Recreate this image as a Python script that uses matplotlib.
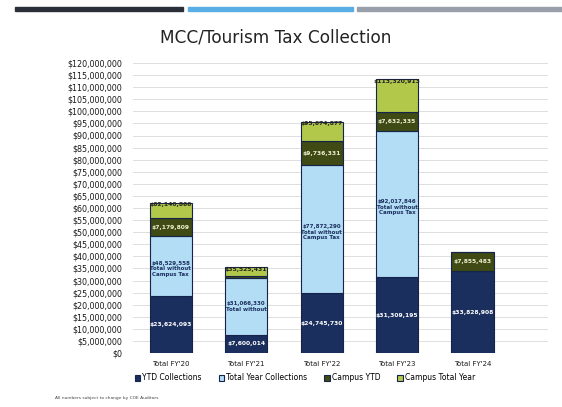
import matplotlib.pyplot as plt
from matplotlib.patches import Rectangle
from matplotlib.ticker import FuncFormatter, MultipleLocator

# values in dollars
years = ["Total FY'20", "Total FY'21", "Total FY'22", "Total FY'23", "Total FY'24"]
ytd = [23624093, 7600014, 24745730, 31309195, 33828908]
total_year = [24905465, 23466316, 53126560, 60708651, 0]
campus_ytd = [7179809, 1000000, 9736331, 7632335, 7855483]
campus_total = [6431499, 3459101, 8066256, 13670732, 0]

ytd_labels = ["$23,624,093", "$7,600,014", "$24,745,730", "$31,309,195", "$33,828,908"]
nocampus_labels = ["$48,529,558\nTotal without\nCampus Tax", "$31,066,330\nTotal without",
                   "$77,872,290\nTotal without\nCampus Tax", "$92,017,846\nTotal without\nCampus Tax", ""]
campus_labels = ["$7,179,809", "", "$9,736,331", "$7,632,335", "$7,855,483"]
top_labels = ["$62,140,866", "$35,525,431", "$95,674,877", "$113,320,913", ""]

navy = "#1b2f5e"
light = "#b3dcf5"
olive = "#3f4a14"
lime = "#b2c84a"

fig = plt.figure(figsize=(5.62, 4.07), dpi=100)

# header strip
fig.patches.append(Rectangle((15/562, 1-11/407), 168/562, 4/407, transform=fig.transFigure, color="#2b2f3a"))
fig.patches.append(Rectangle((188/562, 1-11/407), 165/562, 4/407, transform=fig.transFigure, color="#5aaee6"))
fig.patches.append(Rectangle((357/562, 1-11/407), 205/562, 4/407, transform=fig.transFigure, color="#9aa0ab"))

fig.text(0.49, 1-38/407, "MCC/Tourism Tax Collection", ha="center", va="center", fontsize=12.2, color="#222222")

ax = fig.add_axes([133/562, 1-353/407, 415/562, 290/407])
x = list(range(len(years)))
w = 0.56
kw = dict(width=w, edgecolor="#15244a", linewidth=0.8)

b1 = ax.bar(x, ytd, color=navy, label="YTD Collections", **kw)
bot = ytd[:]
b2 = ax.bar(x, total_year, bottom=bot, color=light, label="Total Year Collections", **kw)
bot = [a + b for a, b in zip(bot, total_year)]
b3 = ax.bar(x, campus_ytd, bottom=bot, color=olive, label="Campus YTD", **kw)
bot2 = [a + b for a, b in zip(bot, campus_ytd)]
b4 = ax.bar(x, campus_total, bottom=bot2, color=lime, label="Campus Total Year", **kw)
tops = [a + b for a, b in zip(bot2, campus_total)]

for i in x:
    ax.text(i, ytd[i] / 2, ytd_labels[i], ha="center", va="center", fontsize=4.3, color="white", fontweight="bold")
    if nocampus_labels[i]:
        ax.text(i, ytd[i] + total_year[i] / 2 + 2e6, nocampus_labels[i], ha="center", va="top",
                fontsize=4.0, color=navy, fontweight="bold", linespacing=1.1)
    if campus_labels[i]:
        ax.text(i, bot[i] + campus_ytd[i] / 2, campus_labels[i], ha="center", va="center",
                fontsize=4.3, color="#f0f0d0", fontweight="bold")
    if top_labels[i]:
        ax.text(i, tops[i] - 0.8e6, top_labels[i], ha="center", va="center", fontsize=4.3,
                color="#222222", fontweight="bold")

ax.set_xlim(-0.5, 5.0)
ax.set_ylim(0, 120e6)
ax.yaxis.set_major_locator(MultipleLocator(5e6))
ax.yaxis.set_major_formatter(FuncFormatter(lambda v, p: "${:,.0f}".format(v)))
ax.set_xticks(x)
ax.set_xticklabels(years)
ax.tick_params(axis="y", labelsize=5.8, length=0, pad=8, colors="#1a1a1a")
ax.tick_params(axis="x", labelsize=5, length=0, pad=6, colors="#1a1a1a")
ax.grid(axis="y", color="#d9d9d9", linewidth=0.6)
ax.set_axisbelow(True)
for s in ax.spines.values():
    s.set_visible(False)

fig.legend(handles=[b1, b2, b3, b4], loc="center", bbox_to_anchor=(305/562, 1-378/407), ncol=4,
           fontsize=5.5, frameon=False, handlelength=0.7, handleheight=0.7, handletextpad=0.3,
           columnspacing=2.2)

fig.text(55/562, 1-398/407, "All numbers subject to change by COE Auditors", fontsize=3.2, color="#444444",
         va="center")

fig.savefig("out.png", dpi=100)
